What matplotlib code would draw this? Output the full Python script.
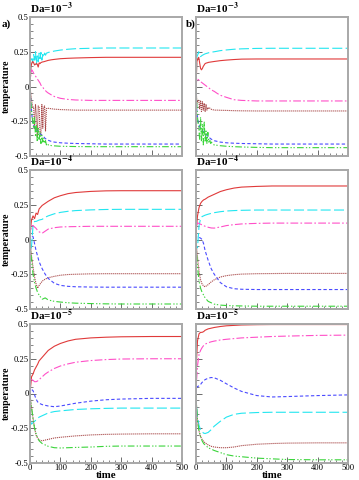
import matplotlib
matplotlib.use("Agg")
import matplotlib.pyplot as plt
from matplotlib.ticker import MultipleLocator, FixedLocator

plt.rcParams['font.family'] = ['Liberation Serif', 'DejaVu Serif']
plt.rcParams['mathtext.fontset'] = 'stix'

# ---------------- data ----------------
t_top = [0, 3, 6, 9, 12, 15, 18, 21, 24, 27, 30, 33, 36, 39, 42, 45, 48, 51, 54, 57, 60,
         70, 80, 100, 125, 150, 200, 250, 300, 400, 500]
t_low = [0, 2, 5, 10, 15, 20, 25, 30, 40, 50, 60, 80, 100, 125, 150, 200, 250, 300, 400, 500]

# panel a) Da=1e-3
red_a = [0.0, 0.14, 0.17, 0.18, 0.17, 0.155, 0.16, 0.165, 0.16, 0.14, 0.17, 0.165, 0.172, 0.175, 0.177, 0.178, 0.18, 0.182, 0.184, 0.186, 0.188,
         0.192, 0.195, 0.2, 0.203, 0.205, 0.208, 0.21, 0.21, 0.21, 0.21]
cyan_a = [0.0, 0.16, 0.2, 0.17, 0.23, 0.19, 0.25, 0.16, 0.22, 0.18, 0.24, 0.2, 0.245, 0.19, 0.23, 0.21, 0.24, 0.225, 0.24, 0.242, 0.245,
          0.25, 0.255, 0.262, 0.268, 0.272, 0.275, 0.277, 0.277, 0.277, 0.277]
magenta_a = [0.0, 0.1, 0.12, 0.11, 0.095, 0.085, 0.075, 0.065, 0.055, 0.045, 0.035, 0.025, 0.01, 0.002, -0.005, -0.015, -0.022, -0.03, -0.037, -0.042, -0.047,
             -0.06, -0.072, -0.085, -0.093, -0.097, -0.1, -0.1, -0.1, -0.1, -0.1]
brown_a = [0.0, -0.06, -0.11, -0.145, -0.15, -0.3, -0.13, -0.2, -0.36, -0.14, -0.15, -0.33, -0.35, -0.13, -0.3, -0.15, -0.14, -0.32, -0.16, -0.155, -0.157,
           -0.16, -0.163, -0.166, -0.168, -0.17, -0.17, -0.17, -0.17, -0.17, -0.17]
blue_a = [0.0, -0.12, -0.2, -0.26, -0.28, -0.3, -0.3, -0.31, -0.32, -0.32, -0.33, -0.34, -0.345, -0.35, -0.355, -0.36, -0.37, -0.375, -0.38, -0.385, -0.387,
          -0.395, -0.4, -0.405, -0.408, -0.41, -0.412, -0.414, -0.414, -0.414, -0.414]
green_a = [0.0, -0.12, -0.2, -0.25, -0.3, -0.22, -0.36, -0.28, -0.4, -0.3, -0.38, -0.33, -0.41, -0.35, -0.4, -0.37, -0.41, -0.39, -0.42, -0.41, -0.42,
           -0.425, -0.427, -0.43, -0.431, -0.432, -0.433, -0.433, -0.433, -0.433, -0.433]

# panel b) Da=1e-3
red_b = [0.0, 0.18, 0.2, 0.21, 0.17, 0.13, 0.12, 0.13, 0.145, 0.155, 0.165, 0.168, 0.17, 0.172, 0.174, 0.175, 0.176, 0.177, 0.178, 0.179, 0.18,
         0.183, 0.186, 0.19, 0.194, 0.197, 0.198, 0.198, 0.198, 0.198, 0.198]
cyan_b = [0.0, 0.215, 0.23, 0.25, 0.225, 0.215, 0.22, 0.225, 0.228, 0.232, 0.235, 0.237, 0.239, 0.241, 0.243, 0.245, 0.246, 0.247, 0.248, 0.249, 0.25,
          0.254, 0.258, 0.263, 0.268, 0.271, 0.274, 0.275, 0.275, 0.275, 0.275]
magenta_b = [0.0, 0.06, 0.055, 0.047, 0.04, 0.035, 0.03, 0.025, 0.02, 0.015, 0.01, 0.005, 0.0, -0.005, -0.01, -0.015, -0.02, -0.025, -0.028, -0.032, -0.035,
             -0.05, -0.063, -0.078, -0.095, -0.1, -0.104, -0.104, -0.104, -0.104, -0.104]
brown_b = [0.0, -0.12, -0.1, -0.1, -0.16, -0.1, -0.18, -0.11, -0.17, -0.12, -0.18, -0.13, -0.17, -0.15, -0.16, -0.155, -0.16, -0.165, -0.167, -0.168, -0.17,
           -0.17, -0.171, -0.172, -0.174, -0.175, -0.176, -0.176, -0.176, -0.176, -0.176]
blue_b = [0.0, -0.19, -0.24, -0.27, -0.29, -0.3, -0.31, -0.315, -0.325, -0.33, -0.34, -0.345, -0.35, -0.36, -0.365, -0.37, -0.375, -0.38, -0.383, -0.386, -0.39,
          -0.395, -0.4, -0.405, -0.408, -0.41, -0.412, -0.414, -0.414, -0.414, -0.414]
green_b = [0.0, -0.15, -0.25, -0.3, -0.38, -0.22, -0.4, -0.27, -0.42, -0.25, -0.4, -0.32, -0.41, -0.33, -0.4, -0.38, -0.41, -0.4, -0.415, -0.418, -0.42,
           -0.423, -0.426, -0.43, -0.433, -0.435, -0.438, -0.44, -0.44, -0.44, -0.44]

# panel c) Da=1e-4 (left)
red_c = [0.0, 0.08, 0.14, 0.17, 0.15, 0.19, 0.18, 0.22, 0.245, 0.26, 0.275, 0.3, 0.315, 0.33, 0.338, 0.346, 0.35, 0.351, 0.351, 0.351]
cyan_c = [0.0, -0.08, -0.05, 0.1, 0.13, 0.13, 0.135, 0.14, 0.145, 0.16, 0.17, 0.185, 0.195, 0.203, 0.208, 0.213, 0.216, 0.217, 0.217, 0.217]
magenta_c = [0.0, 0.06, 0.1, 0.1, 0.09, 0.08, 0.065, 0.055, 0.045, 0.06, 0.075, 0.085, 0.09, 0.092, 0.093, 0.095, 0.095, 0.095, 0.095, 0.095]
brown_c = [0.0, -0.05, -0.12, -0.2, -0.27, -0.32, -0.35, -0.33, -0.3, -0.285, -0.275, -0.265, -0.257, -0.252, -0.25, -0.247, -0.246, -0.246, -0.246, -0.246]
blue_c = [0.0, 0.02, 0.03, 0.02, -0.03, -0.08, -0.12, -0.16, -0.21, -0.25, -0.28, -0.315, -0.33, -0.337, -0.34, -0.342, -0.343, -0.343, -0.343, -0.343]
green_c = [0.0, -0.08, -0.15, -0.25, -0.31, -0.35, -0.38, -0.4, -0.43, -0.42, -0.435, -0.445, -0.45, -0.455, -0.458, -0.461, -0.463, -0.464, -0.464, -0.464]

# panel d) Da=1e-4 (right)
red_d = [0.0, 0.1, 0.17, 0.23, 0.26, 0.275, 0.285, 0.29, 0.305, 0.315, 0.325, 0.345, 0.358, 0.37, 0.377, 0.382, 0.385, 0.385, 0.385, 0.385]
cyan_d = [0.0, -0.05, -0.06, 0.1, 0.15, 0.165, 0.17, 0.175, 0.182, 0.188, 0.193, 0.2, 0.205, 0.208, 0.21, 0.212, 0.212, 0.212, 0.212, 0.212]
magenta_d = [0.0, 0.1, 0.12, 0.115, 0.11, 0.105, 0.1, 0.095, 0.088, 0.083, 0.082, 0.09, 0.1, 0.107, 0.112, 0.116, 0.118, 0.118, 0.118, 0.118]
brown_d = [0.0, -0.06, -0.13, -0.23, -0.29, -0.32, -0.335, -0.34, -0.325, -0.305, -0.29, -0.27, -0.26, -0.253, -0.249, -0.246, -0.245, -0.244, -0.244, -0.244]
blue_d = [0.0, 0.02, 0.02, 0.015, 0.01, 0.0, -0.03, -0.08, -0.15, -0.21, -0.25, -0.31, -0.34, -0.354, -0.358, -0.36, -0.36, -0.36, -0.36, -0.36]
green_d = [0.0, -0.1, -0.2, -0.3, -0.35, -0.38, -0.4, -0.42, -0.445, -0.455, -0.465, -0.472, -0.475, -0.477, -0.478, -0.48, -0.48, -0.48, -0.48, -0.48]

# panel e) Da=1e-5 (left)
red_e = [0.0, 0.05, 0.12, 0.14, 0.17, 0.19, 0.21, 0.235, 0.26, 0.285, 0.31, 0.34, 0.36, 0.378, 0.39, 0.4, 0.405, 0.408, 0.41, 0.41]
magenta_e = [0.0, 0.08, 0.1, 0.095, 0.085, 0.085, 0.09, 0.1, 0.12, 0.14, 0.155, 0.18, 0.198, 0.213, 0.225, 0.237, 0.244, 0.248, 0.25, 0.25]
blue_e = [0.0, 0.03, 0.03, 0.02, -0.01, -0.04, -0.06, -0.07, -0.08, -0.085, -0.09, -0.095, -0.09, -0.08, -0.07, -0.055, -0.045, -0.04, -0.035, -0.035]
cyan_e = [0.0, -0.2, -0.22, -0.21, -0.2, -0.19, -0.18, -0.17, -0.16, -0.15, -0.14, -0.13, -0.125, -0.12, -0.115, -0.11, -0.107, -0.105, -0.105, -0.105]
brown_e = [0.0, -0.05, -0.1, -0.18, -0.25, -0.3, -0.32, -0.335, -0.34, -0.335, -0.33, -0.32, -0.315, -0.31, -0.305, -0.298, -0.294, -0.292, -0.29, -0.29]
green_e = [0.0, -0.05, -0.1, -0.18, -0.25, -0.29, -0.32, -0.34, -0.36, -0.37, -0.38, -0.39, -0.392, -0.39, -0.388, -0.385, -0.38, -0.378, -0.378, -0.378]

# panel f) Da=1e-5 (right)
red_f = [0.0, 0.25, 0.38, 0.43, 0.44, 0.44, 0.445, 0.455, 0.465, 0.47, 0.475, 0.482, 0.487, 0.49, 0.493, 0.495, 0.496, 0.496, 0.496, 0.496]
magenta_f = [0.0, 0.1, 0.2, 0.28, 0.31, 0.33, 0.345, 0.355, 0.365, 0.372, 0.377, 0.385, 0.39, 0.395, 0.4, 0.405, 0.41, 0.413, 0.418, 0.42]
blue_f = [0.0, 0.04, 0.05, 0.055, 0.065, 0.08, 0.09, 0.1, 0.11, 0.115, 0.113, 0.095, 0.07, 0.04, 0.015, -0.015, -0.025, -0.022, -0.015, -0.01]
cyan_f = [0.0, -0.1, -0.17, -0.23, -0.26, -0.275, -0.285, -0.288, -0.28, -0.26, -0.235, -0.2, -0.17, -0.15, -0.142, -0.137, -0.135, -0.135, -0.135, -0.135]
brown_f = [0.0, -0.1, -0.2, -0.27, -0.31, -0.33, -0.345, -0.355, -0.37, -0.38, -0.385, -0.39, -0.39, -0.385, -0.375, -0.365, -0.36, -0.357, -0.355, -0.355]
green_f = [0.0, -0.1, -0.2, -0.27, -0.31, -0.34, -0.36, -0.37, -0.39, -0.4, -0.41, -0.425, -0.44, -0.45, -0.455, -0.465, -0.47, -0.475, -0.477, -0.477]

titles = ['Da=10$^{\\mathbf{-3}}$', 'Da=10$^{\\mathbf{-4}}$', 'Da=10$^{\\mathbf{-5}}$']
ytick_vals = [-0.5, -0.25, 0, 0.25, 0.5]
ytick_labels = ['-0.5', '-0.25', '0', '0.25', '0.5']
xtick_vals = [0, 100, 200, 300, 400, 500]

# ---------------- styles ----------------
styles = {
    'red': dict(color='#e03a3a', ls='-'),
    'cyan': dict(color='#22e6f0', ls=(0, (9, 3))),
    'magenta': dict(color='#ff4fc8', ls=(0, (7, 2, 1.5, 2))),
    'brown': dict(color='#a84848', ls=(0, (1, 0.8))),
    'blue': dict(color='#4a4aff', ls=(0, (3, 2))),
    'green': dict(color='#3ad43a', ls=(0, (6, 2, 1.2, 1.5, 1.2, 2))),
}

panels = [
    ((0, 0), t_top, dict(red=red_a, cyan=cyan_a, magenta=magenta_a, brown=brown_a, blue=blue_a, green=green_a)),
    ((0, 1), t_top, dict(red=red_b, cyan=cyan_b, magenta=magenta_b, brown=brown_b, blue=blue_b, green=green_b)),
    ((1, 0), t_low, dict(red=red_c, cyan=cyan_c, magenta=magenta_c, brown=brown_c, blue=blue_c, green=green_c)),
    ((1, 1), t_low, dict(red=red_d, cyan=cyan_d, magenta=magenta_d, brown=brown_d, blue=blue_d, green=green_d)),
    ((2, 0), t_low, dict(red=red_e, cyan=cyan_e, magenta=magenta_e, brown=brown_e, blue=blue_e, green=green_e)),
    ((2, 1), t_low, dict(red=red_f, cyan=cyan_f, magenta=magenta_f, brown=brown_f, blue=blue_f, green=green_f)),
]

W, H = 359, 480
fig = plt.figure(figsize=(W / 100, H / 100), dpi=100)

col_left = [30, 196]
col_w = 152
row_top = [17, 170, 324]
row_h = 139

frame_col = '#a8a8a8'

for (r, c), t, series in panels:
    x0 = col_left[c]
    y0 = row_top[r]
    ax = fig.add_axes([x0 / W, 1 - (y0 + row_h) / H, col_w / W, row_h / H])
    for name in ['cyan', 'red', 'magenta', 'brown', 'blue', 'green']:
        st = styles[name]
        ax.plot(t, series[name], color=st['color'], linestyle=st['ls'], linewidth=0.8)
    ax.set_xlim(0, 500)
    ax.set_ylim(-0.5, 0.5)
    ax.xaxis.set_major_locator(FixedLocator(xtick_vals))
    ax.xaxis.set_minor_locator(MultipleLocator(20))
    ax.yaxis.set_major_locator(FixedLocator(ytick_vals))
    ax.yaxis.set_minor_locator(MultipleLocator(0.05))
    ax.tick_params(which='both', direction='in', colors='#555555', labelcolor='black',
                   labelsize=6.2, pad=1.0, top=False, right=False)
    ax.tick_params(which='major', length=4, width=0.6)
    ax.tick_params(which='minor', length=2, width=0.5)
    for sp in ax.spines.values():
        sp.set_color(frame_col)
        sp.set_linewidth(1.4)
    if c == 0:
        ax.set_yticklabels(ytick_labels)
        ax.set_ylabel('temperature', fontsize=7.2, fontweight='bold')
        ax.yaxis.set_label_coords(-0.125, 0.5)
    else:
        ax.set_yticklabels([])
    if r == 2:
        ax.set_xticklabels([str(v) for v in xtick_vals])
        ax.set_xlabel('time', fontsize=7.8, fontweight='bold', va='baseline')
        ax.xaxis.set_label_coords(0.5, -0.105)
    else:
        ax.set_xticklabels([])
    ax.text(0.0, 1.01, titles[r], transform=ax.transAxes, ha='left', va='bottom',
            fontsize=8, fontweight='bold')

fig.text(2 / W, 1 - 24 / H, 'a)', fontsize=8, fontweight='bold', ha='left', va='center')
fig.text(186 / W, 1 - 24 / H, 'b)', fontsize=8, fontweight='bold', ha='left', va='center')

fig.savefig('out.png', dpi=100)
